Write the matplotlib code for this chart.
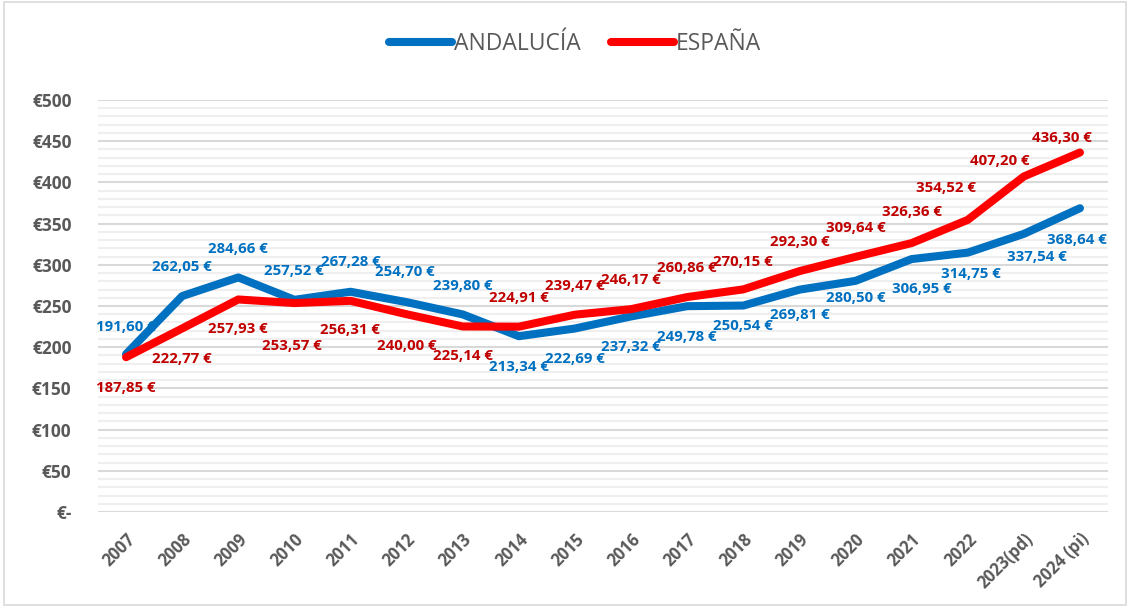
import matplotlib.pyplot as plt
from matplotlib.patches import Rectangle
from matplotlib.ticker import MultipleLocator, FuncFormatter

years = ["2007", "2008", "2009", "2010", "2011", "2012", "2013", "2014", "2015",
         "2016", "2017", "2018", "2019", "2020", "2021", "2022", "2023(pd)", "2024 (pi)"]
andalucia = [191.60, 262.05, 284.66, 257.52, 267.28, 254.70, 239.80, 213.34, 222.69,
             237.32, 249.78, 250.54, 269.81, 280.50, 306.95, 314.75, 337.54, 368.64]
espana = [187.85, 222.77, 257.93, 253.57, 256.31, 240.00, 225.14, 224.91, 239.47,
          246.17, 260.86, 270.15, 292.30, 309.64, 326.36, 354.52, 407.20, 436.30]

# label offsets in pixels (dx, dy), dy positive = up
off_and = [(0, 27), (0, 29), (0, 28), (0, 29), (0, 30), (-2, 30), (0, 28), (0, -31),
           (0, -30), (0, -31), (0, -31), (0, -20), (0, -25), (0, -17), (10, -30), (3, -21),
           (13, -23), (-3, -32)]
off_esp = [(0, -31), (0, -31), (0, -30), (-2, -43), (0, -29), (0, -32), (0, -30), (0, 29),
           (0, 29), (0, 29), (0, 29), (0, 27), (0, 29), (0, 29), (0, 31), (-22, 32),
           (-24, 15), (-18, 14)]

BLUE = "#0070c0"
RED = "#ff0000"
BLUE_TXT = "#0070c0"
RED_TXT = "#c00000"
GRAY = "#595959"

plt.rcParams["font.family"] = ["Open Sans", "DejaVu Sans"]

fig = plt.figure(figsize=(11.3, 6.07), dpi=100)
ax = fig.add_axes([98 / 1130, 1 - 512 / 607, 1010 / 1130, 412 / 607])

x = list(range(len(years)))
ax.plot(x, andalucia, color=BLUE, lw=5.8, solid_capstyle="round", label="ANDALUCÍA", zorder=3)
ax.plot(x, espana, color=RED, lw=5.8, solid_capstyle="round", label="ESPAÑA", zorder=4)

def fmt(v):
    return f"{v:,.2f} €".replace(",", "X").replace(".", ",").replace("X", ".")

for i in x:
    dx, dy = off_and[i]
    ax.annotate(fmt(andalucia[i]), (i, andalucia[i]), xytext=(dx * 0.72, dy * 0.72),
                textcoords="offset points", ha="center", va="center",
                fontsize=10.8, fontweight="bold", color=BLUE_TXT, zorder=5)
    dx, dy = off_esp[i]
    ax.annotate(fmt(espana[i]), (i, espana[i]), xytext=(dx * 0.72, dy * 0.72),
                textcoords="offset points", ha="center", va="center",
                fontsize=10.8, fontweight="bold", color=RED_TXT, zorder=5)

ax.set_xlim(-0.5, len(years) - 0.5)
ax.set_ylim(0, 500)
ax.yaxis.set_major_locator(MultipleLocator(50))
ax.yaxis.set_minor_locator(MultipleLocator(10))
ax.yaxis.set_major_formatter(FuncFormatter(lambda v, p: "€-" if v == 0 else f"€{v:.0f}"))
ax.grid(which="major", axis="y", color="#d9d9d9", lw=1.5, zorder=0)
ax.grid(which="minor", axis="y", color="#efefef", lw=1.5, zorder=0)
ax.set_axisbelow(True)
for s in ax.spines.values():
    s.set_visible(False)
ax.tick_params(axis="both", which="both", length=0)
ax.tick_params(axis="y", pad=19)
ax.set_xticks(x)
ax.set_xticklabels(years, rotation=45, ha="right", rotation_mode="anchor")
for lab in ax.get_yticklabels():
    lab.set_fontweight("bold")
    lab.set_color(GRAY)
    lab.set_fontsize(12.5)
for lab in ax.get_xticklabels():
    lab.set_fontweight("bold")
    lab.set_color(GRAY)
    lab.set_fontsize(12)
ax.tick_params(axis="x", pad=13)

fig.legend(loc="center", bbox_to_anchor=(575 / 1130, 1 - 44 / 607), ncol=2, frameon=False,
           handlelength=2.75, handletextpad=0.1, columnspacing=1.3,
           prop={"size": 16.5}, labelcolor=GRAY)

fig.patches.append(Rectangle((4 / 1130, 2 / 607), 1 - 8 / 1130, 1 - 4 / 607, transform=fig.transFigure,
                             fill=False, edgecolor="#d9d9d9", lw=1.2))

fig.savefig("out.png", dpi=100)
